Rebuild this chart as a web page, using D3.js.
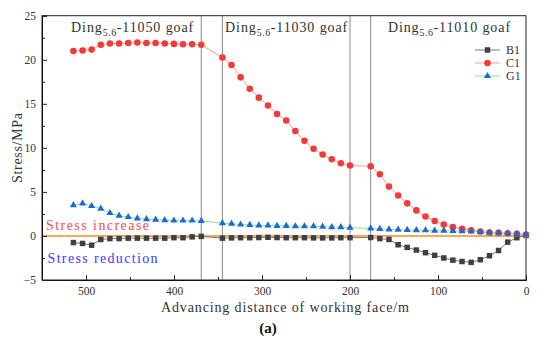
<!DOCTYPE html>
<html>
<head>
<meta charset="utf-8">
<script src="https://cdn.jsdelivr.net/npm/d3@7"></script>
<style>
  body { margin: 0; background: #fff; }
  svg { display: block; }
</style>
</head>
<body>
<div id="chart"></div>
<script>
const width = 550, height = 349;

// advancing distance (m) of every measuring point
const dist = [514.3, 503.9, 493.6, 483.2, 472.8, 462.4, 452.0, 441.7, 431.3, 420.9, 410.5, 400.1, 389.8, 379.4, 369.0,
  345.0, 334.6, 324.3, 313.9, 303.6, 293.2, 282.9, 272.5, 262.1, 251.8, 241.4, 231.1, 220.7, 210.4, 200.0,
  176.5, 166.1, 155.7, 145.3, 135.0, 124.6, 114.2, 103.8, 93.4, 83.1, 72.7, 62.3, 51.9, 41.5, 31.2, 20.8, 10.4, 0];

const b1 = [-0.75, -0.85, -1.05, -0.4, -0.3, -0.3, -0.25, -0.25, -0.25, -0.25, -0.25, -0.2, -0.2, -0.1, -0.05,
  -0.25, -0.22, -0.2, -0.2, -0.18, -0.15, -0.18, -0.2, -0.2, -0.2, -0.22, -0.22, -0.22, -0.2, -0.2,
  -0.18, -0.3, -0.4, -1.0, -1.3, -1.6, -1.9, -2.2, -2.5, -2.75, -2.9, -3.0, -2.7, -2.25, -1.65, -0.7, -0.2, 0.05];

const c1 = [21.0, 21.05, 21.15, 21.7, 21.85, 21.85, 21.9, 21.95, 21.9, 21.9, 21.85, 21.8, 21.75, 21.75, 21.7,
  20.25, 19.4, 18.0, 16.7, 15.7, 14.8, 13.85, 13.1, 11.9, 10.8, 9.9, 9.25, 8.7, 8.25, 8.0,
  7.9, 7.0, 5.6, 4.6, 3.7, 2.9, 2.2, 1.7, 1.3, 1.0, 0.8, 0.65, 0.5, 0.4, 0.35, 0.3, 0.25, 0.15];

const g1 = [3.5, 3.7, 3.4, 3.1, 2.6, 2.3, 2.15, 2.0, 1.9, 1.85, 1.8, 1.75, 1.75, 1.75, 1.7,
  1.45, 1.4, 1.3, 1.25, 1.2, 1.2, 1.15, 1.15, 1.1, 1.1, 1.1, 1.05, 1.0, 1.0, 0.95,
  0.85, 0.8, 0.75, 0.72, 0.68, 0.65, 0.64, 0.6, 0.6, 0.57, 0.53, 0.5, 0.45, 0.38, 0.34, 0.3, 0.23, 0.15];

// goaf boundaries and labels
const bounds = [369, 345, 200, 176.5];
const goafs = [
  { at: 447, code: "11050" },
  { at: 272, code: "11030" },
  { at: 87, code: "11010" }
];

const xTicks = [500, 400, 300, 200, 100, 0];
const xMinor = [550, 450, 350, 250, 150, 50];
const yTicks = [-5, 0, 5, 10, 15, 20, 25];
const yMinor = [-2.5, 2.5, 7.5, 12.5, 17.5, 22.5];

const series = [
  { name: "B1", values: b1, line: "#7a7a7a", fill: "#404040", shape: d3.symbolSquare, size: 30 },
  { name: "C1", values: c1, line: "#ff9a9a", fill: "#f23a3a", shape: d3.symbolCircle, size: 34 },
  { name: "G1", values: g1, line: "#86e886", fill: "#1a6ad8", shape: d3.symbolTriangle, size: 22 }
];

const margin = { top: 15.7, right: 24, bottom: 69, left: 42 };
const x = d3.scaleLinear().domain([550, 0]).range([margin.left, width - margin.right]);
const y = d3.scaleLinear().domain([-5, 25]).range([height - margin.bottom, margin.top]);

const serif = "'Liberation Serif', 'DejaVu Serif', serif";

const svg = d3.select("#chart").append("svg")
  .attr("width", width)
  .attr("height", height);

// stress increase / reduction split
svg.append("line")
  .attr("x1", x(550)).attr("x2", x(0))
  .attr("y1", y(0)).attr("y2", y(0))
  .attr("stroke", "#ff8a1c")
  .attr("stroke-width", 1.6);

// goaf boundaries
svg.selectAll(".bound")
  .data(bounds)
  .enter()
  .append("line")
  .attr("class", "bound")
  .attr("x1", d => x(d)).attr("x2", d => x(d))
  .attr("y1", y(25)).attr("y2", y(-5))
  .attr("stroke", "#8a8a8a")
  .attr("stroke-width", 1);

// axes, ticks pointing inward
svg.append("g")
  .attr("transform", `translate(0,${y(-5)})`)
  .call(d3.axisBottom(x).tickValues(xTicks).tickSize(-5).tickPadding(7).tickFormat(d3.format("d")));
svg.append("g")
  .attr("transform", `translate(0,${y(-5)})`)
  .call(d3.axisBottom(x).tickValues(xMinor).tickSize(-3).tickFormat(""))
  .call(g => g.select(".domain").remove());

svg.append("g")
  .attr("transform", `translate(${x(550)},0)`)
  .call(d3.axisLeft(y).tickValues(yTicks).tickSize(-5).tickPadding(6));
svg.append("g")
  .attr("transform", `translate(${x(550)},0)`)
  .call(d3.axisLeft(y).tickValues(yMinor).tickSize(-3).tickFormat(""))
  .call(g => g.select(".domain").remove());

svg.selectAll(".tick text")
  .attr("font-family", serif)
  .attr("font-size", 11.5)
  .attr("fill", "#333");
svg.selectAll(".tick line").attr("stroke", "#222");

// frame
svg.append("rect")
  .attr("x", x(550)).attr("y", y(25))
  .attr("width", x(0) - x(550))
  .attr("height", y(-5) - y(25))
  .attr("fill", "none")
  .attr("stroke", "#222")
  .attr("stroke-width", 1);

// series lines and markers
const line = d3.line().x((d, i) => x(dist[i])).y(d => y(d));

series.forEach(s => {
  svg.append("path")
    .datum(s.values)
    .attr("d", line)
    .attr("fill", "none")
    .attr("stroke", s.line)
    .attr("stroke-width", 1);
});

series.forEach(s => {
  svg.append("g")
    .selectAll("path")
    .data(s.values)
    .enter()
    .append("path")
    .attr("d", d3.symbol().type(s.shape).size(s.size))
    .attr("transform", (d, i) => `translate(${x(dist[i])},${y(d)})`)
    .attr("fill", s.fill);
});

// goaf titles
goafs.forEach(g => {
  const t = svg.append("text")
    .attr("x", x(g.at))
    .attr("y", 32)
    .attr("text-anchor", "middle")
    .attr("font-family", serif)
    .attr("font-size", 14)
    .attr("letter-spacing", 0.9)
    .attr("fill", "#333");
  t.append("tspan").text("Ding");
  t.append("tspan").attr("dy", 4).attr("font-size", 10).attr("letter-spacing", 0.5).text("5.6");
  t.append("tspan").attr("dy", -4).text(`-${g.code} goaf`);
});

// text with widths fitted to the original
function label(txt, xp, yp, len, color) {
  return svg.append("text")
    .attr("x", xp).attr("y", yp)
    .attr("font-family", serif).attr("font-size", 14)
    .attr("textLength", len).attr("lengthAdjust", "spacing")
    .attr("fill", color)
    .text(txt);
}

label("Stress increase", 46, 230, 103, "#ff4d4d");
label("Stress reduction", 47.5, 262.5, 110, "#3a3aff");
label("Advancing distance of working face/m", 161, 312, 248, "#333");
label("Stress/MPa", 0, 0, 70, "#333")
  .attr("transform", "translate(22,183) rotate(-90)");

// legend
const legend = svg.append("g").attr("transform", "translate(475,50)");
series.forEach((s, i) => {
  const row = legend.append("g").attr("transform", `translate(0,${i * 13})`);
  row.append("line")
    .attr("x1", 0).attr("x2", 25)
    .attr("stroke", s.line).attr("stroke-width", 1);
  row.append("path")
    .attr("d", d3.symbol().type(s.shape).size(s.size))
    .attr("transform", "translate(12.5,0)")
    .attr("fill", s.fill);
  row.append("text")
    .attr("x", 31).attr("y", 4)
    .attr("font-family", serif).attr("font-size", 12)
    .attr("fill", "#333")
    .text(s.name);
});

svg.append("text")
  .attr("x", 268).attr("y", 333)
  .attr("text-anchor", "middle")
  .attr("font-family", serif).attr("font-size", 15).attr("font-weight", "bold")
  .attr("fill", "#111")
  .text("(a)");
</script>
</body>
</html>
